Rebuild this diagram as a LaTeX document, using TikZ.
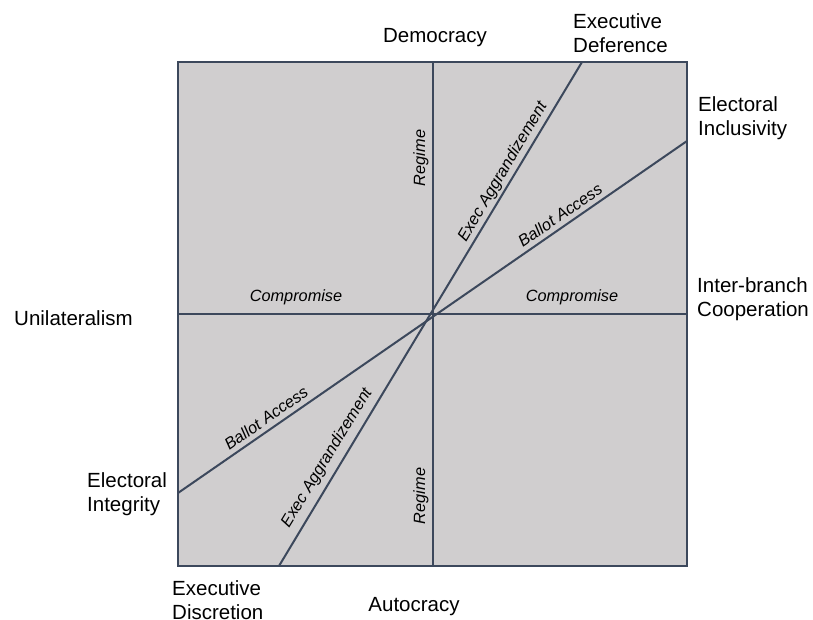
\documentclass[tikz,border=0pt]{standalone}
\usepackage{fontspec}
\setmainfont{Liberation Sans}
\definecolor{boxfill}{RGB}{208,206,207}
\definecolor{linecol}{RGB}{60,72,92}
\tikzset{
  axisline/.style={draw=linecol, line width=2pt},
  outerlabel/.style={inner sep=0pt, font=\fontsize{20.5}{24.5}\selectfont, text=black},
  innerlabel/.style={inner sep=0pt, font=\fontsize{16.3}{19}\selectfont\itshape, text=black},
}
\begin{document}
\begin{tikzpicture}[x=1pt,y=-1pt]
\useasboundingbox (0,0) rectangle (813,620);
% frame coordinates
\coordinate (tl) at (178,62);
\coordinate (br) at (687,566);
\coordinate (c) at (433,314);
\coordinate (vt) at (433,62);
\coordinate (vb) at (433,566);
\coordinate (hl) at (178,314);
\coordinate (hr) at (687,314);
\coordinate (ed) at (582,62);
\coordinate (ex) at (279,566);
\coordinate (ei) at (687,141);
\coordinate (eg) at (178,493);
\fill[boxfill] (tl) rectangle (br);
\draw[axisline] (vt) -- (vb);
\draw[axisline] (hl) -- (hr);
\draw[axisline] (ex) -- (ed);
\draw[axisline] (eg) -- (ei);
\draw[axisline] (tl) rectangle (br);
% inner labels
\node[innerlabel, rotate=90] (reg1) at (421,158) {Regime};
\node[innerlabel, rotate=90] (reg2) at (421,496) {Regime};
\node[innerlabel] (comp1) at (296,297) {Compromise};
\node[innerlabel] (comp2) at (572,297) {Compromise};
\node[innerlabel, rotate=59.4] (exa1) at (503,172) {Exec Aggrandizement};
\node[innerlabel, rotate=34.3] (ba1) at (560,215) {Ballot Access};
\node[innerlabel, rotate=35.1] (ba2) at (266,418) {Ballot Access};
\node[innerlabel, rotate=58.6] (exa2) at (327,458) {Exec Aggrandizement};
% outer labels
\node[outerlabel] (dem) at (435,38) {Democracy};
\node[outerlabel] (aut) at (414,607) {Autocracy};
\node[outerlabel, anchor=west, align=left] (edl) at (573,33) {Executive\\Deference};
\node[outerlabel, anchor=west, align=left] (eil) at (698,118) {Electoral\\Inclusivity};
\node[outerlabel, anchor=west, align=left] (ibc) at (697,299) {Inter-branch\\Cooperation};
\node[outerlabel, anchor=west] (uni) at (14,318) {Unilateralism};
\node[outerlabel, anchor=west, align=left] (egl) at (87,494) {Electoral\\Integrity};
\node[outerlabel, anchor=west, align=left] (exl) at (172,600) {Executive\\Discretion};
\end{tikzpicture}
\end{document}
